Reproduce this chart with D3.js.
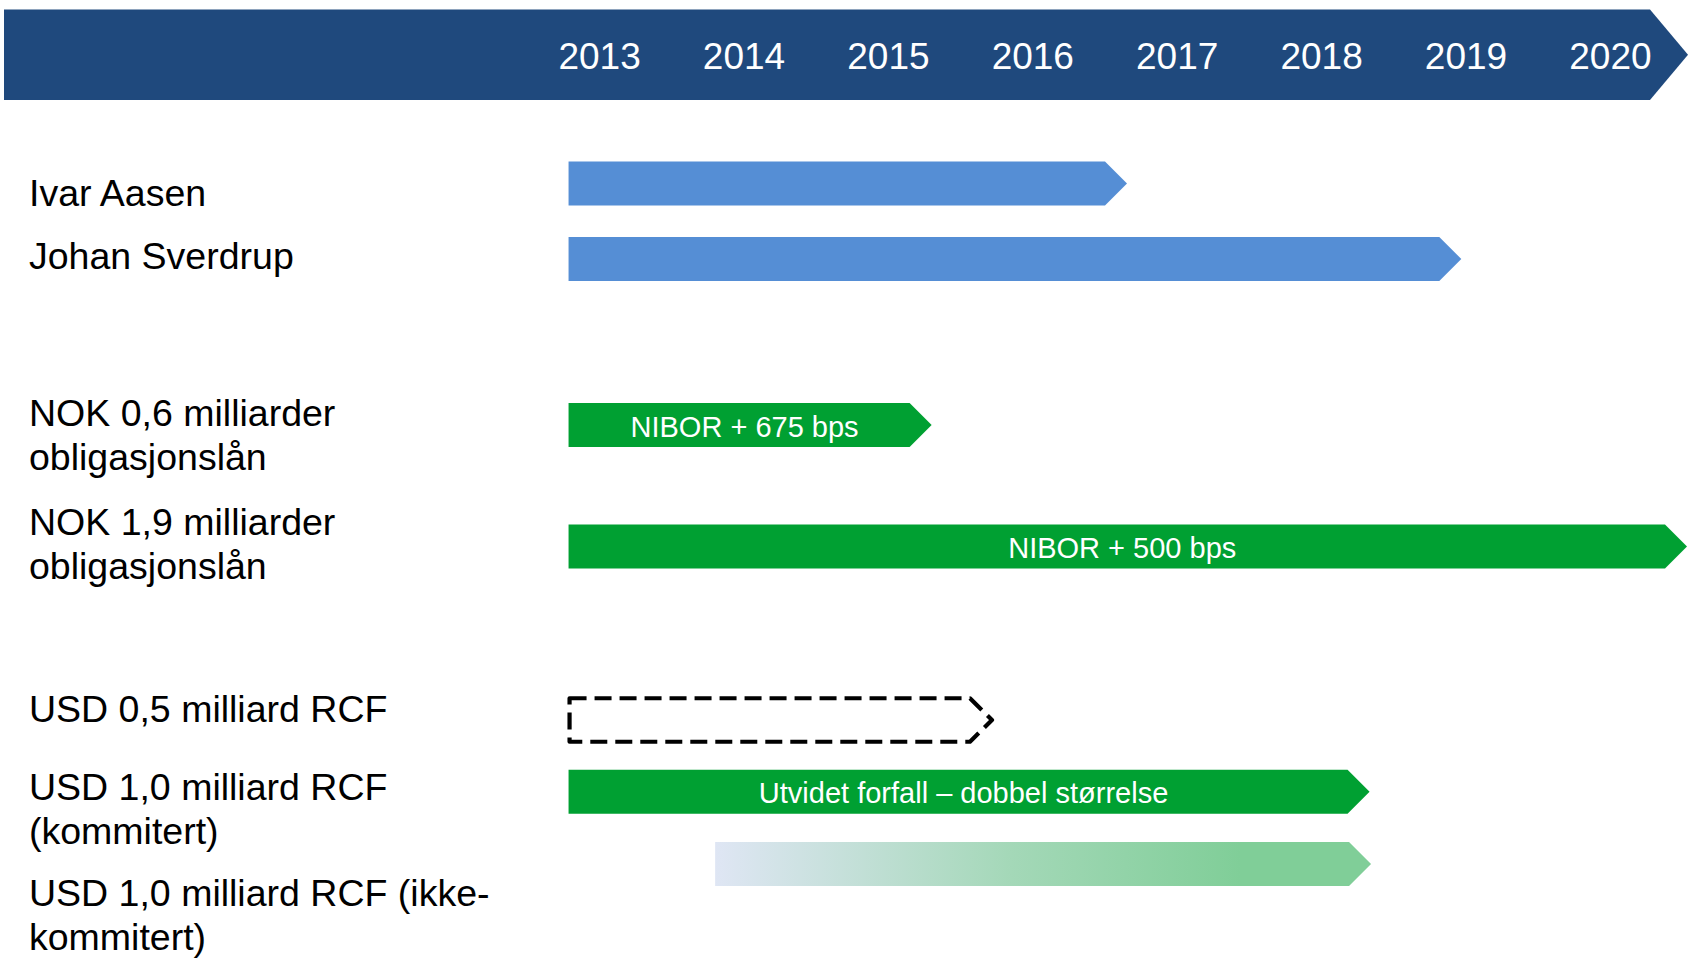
<!DOCTYPE html>
<html><head><meta charset="utf-8">
<script src="https://cdn.jsdelivr.net/npm/d3@7"></script>
<style>html,body{margin:0;padding:0;background:#fff;} svg{display:block;}</style>
</head><body><svg id="chart" width="1688" height="959"></svg>
<script>
// ---------- data ----------
const years = [2013, 2014, 2015, 2016, 2017, 2018, 2019, 2020];
const categories = [
  ["Ivar Aasen"],
  ["Johan Sverdrup"],
  ["NOK 0,6 milliarder", "obligasjonslån"],
  ["NOK 1,9 milliarder", "obligasjonslån"],
  ["USD 0,5 milliard RCF"],
  ["USD 1,0 milliard RCF", "(kommitert)"],
  ["USD 1,0 milliard RCF (ikke-", "kommitert)"]
];
const starts = [2013.285, 2013.285, 2013.285, 2013.285, 2013.285, 2013.285, 2014.30];
const ends   = [2017.0, 2019.315, 2015.647, 2020.878, 2016.065, 2018.68, 2018.69];
const barTexts = ["", "", "NIBOR + 675 bps", "NIBOR + 500 bps", "", "Utvidet forfall – dobbel størrelse", ""];
const kinds = ["prosjekt", "prosjekt", "obligasjon", "obligasjon", "eksisterende", "kommitert", "ikke-kommitert"];

// ---------- layout ----------
const W = 1688, H = 959;
const FONT = "'Liberation Sans', Arial, Helvetica, sans-serif";
const rowCenters = [183.5, 259, 425, 546.4, 720, 791.8, 864];
const labelBaselines = [206, 269, 426, 535, 722, 800, 906];
const lineGap = 44;
const barH = 44, tip = 22;

const svg = d3.select("#chart");
const x = d3.scaleLinear().domain([2013, 2021]).range([527.4, 1682.6]);
const rows = d3.range(categories.length);
const y = d3.scaleOrdinal().domain(rows).range(rowCenters);

const defs = svg.append("defs");
const grad = defs.append("linearGradient").attr("id", "fade")
  .attr("x1", "0%").attr("x2", "100%").attr("y1", "0%").attr("y2", "0%");
grad.append("stop").attr("offset", "0%").attr("stop-color", "#dfe6f4");
grad.append("stop").attr("offset", "45%").attr("stop-color", "#a4d8b8");
grad.append("stop").attr("offset", "80%").attr("stop-color", "#80ce98");
grad.append("stop").attr("offset", "100%").attr("stop-color", "#80ce98");

function arrowPath(x0, x1, yc, h, t) {
  const p = d3.path();
  p.moveTo(x0, yc - h / 2);
  p.lineTo(x1, yc - h / 2);
  p.lineTo(x1 + t, yc);
  p.lineTo(x1, yc + h / 2);
  p.lineTo(x0, yc + h / 2);
  p.closePath();
  return p.toString();
}

// header band
const bandTop = 9.5, bandBot = 100;
svg.append("path")
  .attr("d", arrowPath(4, 1650, (bandTop + bandBot) / 2, bandBot - bandTop, 38))
  .attr("fill", "#1f497d");

svg.append("g").selectAll("text").data(years).join("text")
  .attr("x", d => x(d + 0.5))
  .attr("y", 69)
  .attr("text-anchor", "middle")
  .attr("fill", "#ffffff")
  .style("font-family", FONT)
  .style("font-size", "37px")
  .text(d => d);

// left labels
const lab = svg.append("g").selectAll("text").data(rows).join("text")
  .attr("y", i => labelBaselines[i])
  .attr("fill", "#000")
  .style("font-family", FONT)
  .style("font-size", "37.5px");
lab.selectAll("tspan").data(i => categories[i].map((t, k) => ({t, k}))).join("tspan")
  .attr("x", 29)
  .attr("dy", d => d.k === 0 ? 0 : lineGap)
  .text(d => d.t);

// bars
const styleOf = {
  "prosjekt": {fill: "#558ed5"},
  "obligasjon": {fill: "#00a032"},
  "kommitert": {fill: "#00a032"},
  "ikke-kommitert": {fill: "url(#fade)"},
  "eksisterende": {fill: "none", stroke: "#000", dash: "17,8", sw: 4.2}
};

const bars = svg.append("g");
rows.forEach(i => {
  const s = styleOf[kinds[i]];
  const x0 = x(starts[i]), x1 = x(ends[i]);
  if (s.stroke) {
    bars.append("path")
      .attr("d", arrowPath(x0 + 1, x1, y(i), barH - 0.5, tip))
      .attr("fill", "none")
      .attr("stroke", s.stroke)
      .attr("stroke-width", s.sw)
      .attr("stroke-dasharray", s.dash)
      .attr("stroke-linejoin", "round");
  } else {
    bars.append("path")
      .attr("d", arrowPath(x0, x1, y(i), barH, tip))
      .attr("fill", s.fill);
  }
  if (barTexts[i]) {
    bars.append("text")
      .attr("x", (x0 + x1 + tip / 2) / 2)
      .attr("y", y(i) + 11.5)
      .attr("text-anchor", "middle")
      .attr("fill", "#fff")
      .style("font-family", FONT)
      .style("font-size", "29px")
      .text(barTexts[i]);
  }
});
</script>
</body></html>
